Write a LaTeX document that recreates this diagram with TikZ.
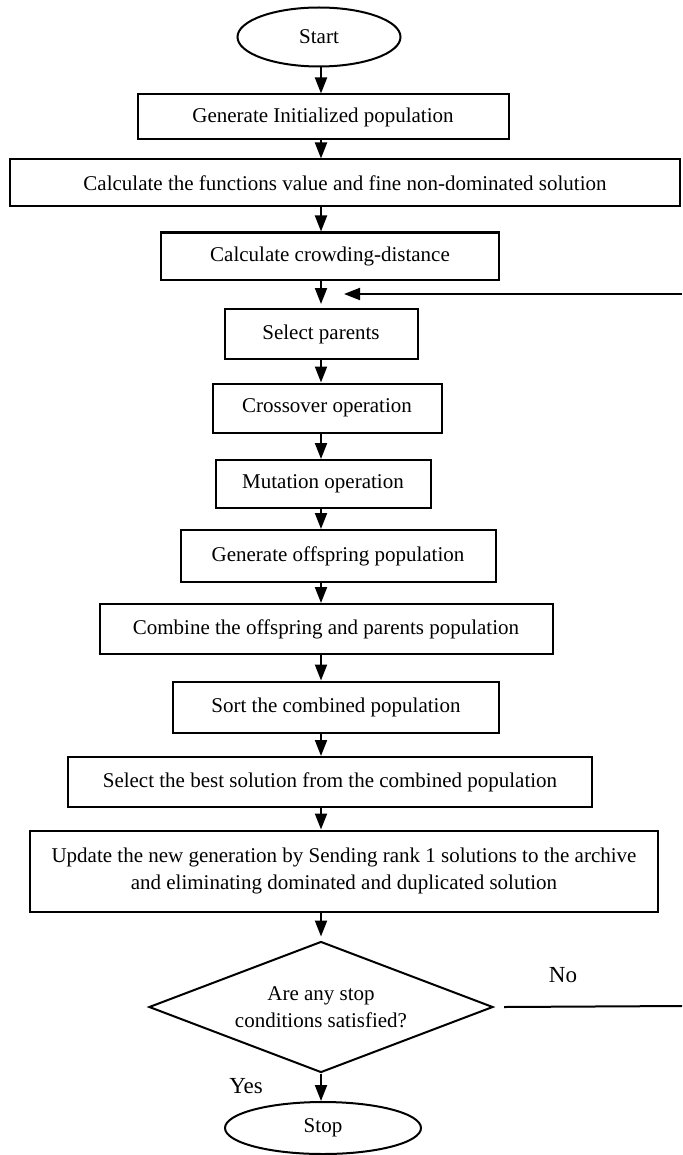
\documentclass[tikz,border=0pt]{standalone}
\usepackage{fontspec}
\setmainfont{Liberation Serif}
\usetikzlibrary{shapes.geometric, arrows.meta, positioning}

\begin{document}
\begin{tikzpicture}[
    x=0.5pt, y=-0.5pt,
    process/.style={draw, line width=1pt, inner sep=0pt, align=center, font=\fontsize{10.5}{13.5}\selectfont},
    terminal/.style={draw, ellipse, line width=1pt, inner sep=0pt, font=\fontsize{10.5}{13.5}\selectfont},
    decision/.style={draw, diamond, aspect=2.6, line width=1pt, inner sep=0pt, align=center, font=\fontsize{10.5}{13.5}\selectfont},
    arrow/.style={-{Triangle[length=8pt, width=6pt]}, line width=1pt},
    answer/.style={font=\fontsize{11.5}{14}\selectfont}
]
\useasboundingbox (0,0) rectangle (682,1155);

% Start
\node[terminal, minimum width=81.5pt, minimum height=29.5pt] (start) at (319,37) {Start};

% Initial steps
\node[process, minimum width=185.5pt, minimum height=22.5pt] (init) at (323,117) {Generate Initialized population};
\node[process, minimum width=335pt, minimum height=23.5pt] (funcs) at (345,183) {Calculate the functions value and fine non-dominated solution};
\node[process, minimum width=169pt, minimum height=23.5pt] (crowd) at (330,256) {Calculate crowding-distance};

% Main loop
\node[process, minimum width=96.5pt, minimum height=25pt] (parents) at (321,334) {Select parents};
\node[process, minimum width=114.5pt, minimum height=24.5pt] (crossover) at (327,408) {Crossover operation};
\node[process, minimum width=107.5pt, minimum height=24pt] (mutation) at (323,484) {Mutation operation};
\node[process, minimum width=157.5pt, minimum height=26pt] (offspring) at (338,556) {Generate offspring population};
\node[process, minimum width=226.5pt, minimum height=25pt] (combine) at (326,629) {Combine the offspring and parents population};
\node[process, minimum width=163pt, minimum height=25.5pt] (sortpop) at (336,707) {Sort the combined population};
\node[process, minimum width=262pt, minimum height=25pt] (best) at (330,782) {Select the best solution from the combined population};
\node[process, minimum width=314pt, minimum height=40.5pt] (update) at (344,871) {Update the new generation by Sending rank 1 solutions to the archive\\and eliminating dominated and duplicated solution};

% Stop test
\node[decision, minimum width=172pt, minimum height=65.5pt] (ask) at (321,1007) {Are any stop\\conditions satisfied?};
\node[terminal, minimum width=98pt, minimum height=26pt] (stop) at (323,1128) {Stop};
\node[answer] (yes) at (246,1086) {Yes};
\node[answer] (no) at (563,975) {No};

% Connectors
\coordinate (spine) at (321,0);
\coordinate (loopR) at (682,294);
\coordinate (loopin) at (344,294);
\coordinate (noR) at (682,1006);
\draw[arrow] (start.south -| spine) -- (init.north -| spine);
\draw[arrow] (init.south -| spine) -- (funcs.north -| spine);
\draw[arrow] (funcs.south -| spine) -- (crowd.north -| spine);
\draw[arrow] (crowd.south -| spine) -- ([yshift=2pt]parents.north -| spine);
\draw[arrow] (parents.south -| spine) -- (crossover.north -| spine);
\draw[arrow] (crossover.south -| spine) -- (mutation.north -| spine);
\draw[arrow] (mutation.south -| spine) -- (offspring.north -| spine);
\draw[arrow] (offspring.south -| spine) -- (combine.north -| spine);
\draw[arrow] (combine.south -| spine) -- (sortpop.north -| spine);
\draw[arrow] (sortpop.south -| spine) -- (best.north -| spine);
\draw[arrow] (best.south -| spine) -- (update.north -| spine);
\draw[arrow] (update.south -| spine) -- ([yshift=2pt]ask.north);
\draw[arrow] (ask.south) -- (stop.north -| spine);
\draw[arrow] (loopR) -- (loopin);
\draw[line width=1pt] ([xshift=5pt]ask.east) -- (noR);

\end{tikzpicture}
\end{document}
